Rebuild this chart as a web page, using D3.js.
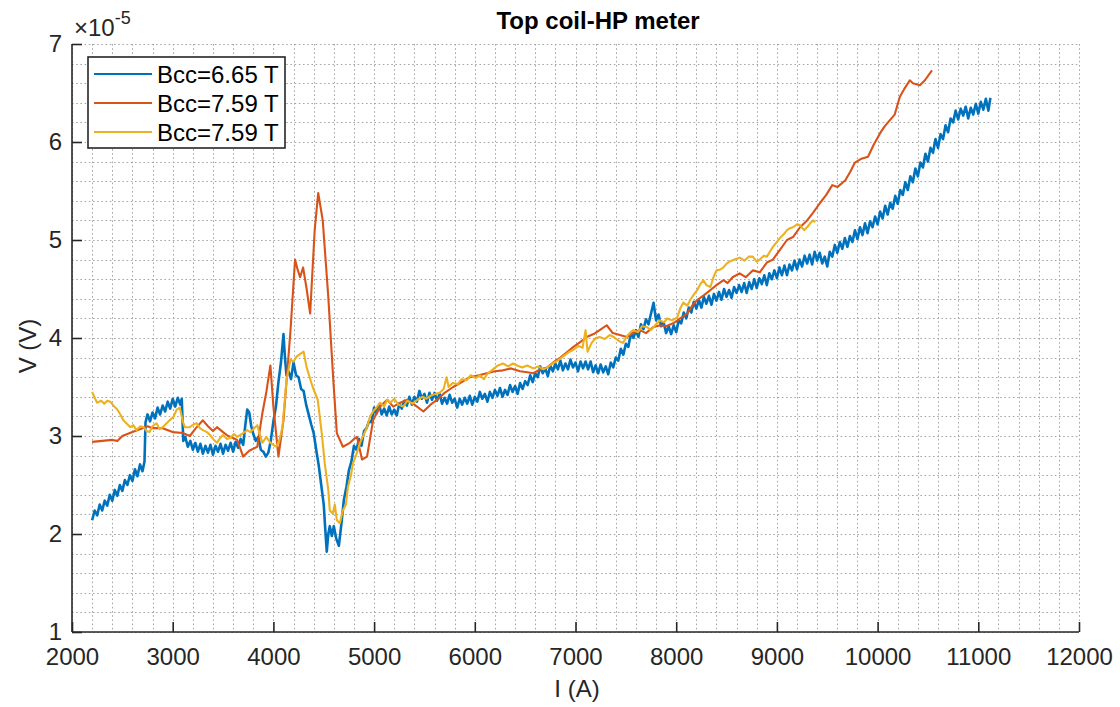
<!DOCTYPE html>
<html>
<head>
<meta charset="utf-8">
<script src="https://cdn.jsdelivr.net/npm/d3@7"></script>
<style>
  html, body { margin: 0; padding: 0; background: #fff; }
  svg { display: block; font-family: "Liberation Sans", Arial, Helvetica, sans-serif; }
</style>
</head>
<body>
<svg id="chart" width="1120" height="707"></svg>
<script>
// Voltage values are in units of 1e-5 V (axis carries a ×10^-5 multiplier).
const xTicks = [2000, 3000, 4000, 5000, 6000, 7000, 8000, 9000, 10000, 11000, 12000];
const yTicks = [1, 2, 3, 4, 5, 6, 7];
const seriesNames = ["Bcc=6.65 T", "Bcc=7.59 T", "Bcc=7.59 T"];
const seriesColors = ["#0072BD", "#D95319", "#EDB120"];

// Bcc = 6.65 T  [I (A), V]
const blueData = [
  [2200,2.14],[2225,2.24],[2250,2.19],[2275,2.30],[2300,2.24],[2325,2.34],[2350,2.29],[2375,2.40],
  [2400,2.34],[2425,2.45],[2450,2.39],[2475,2.50],[2500,2.44],[2525,2.55],[2550,2.50],[2575,2.60],
  [2600,2.54],[2625,2.66],[2650,2.59],[2675,2.71],[2700,2.64],[2720,2.74],[2730,3.14],[2750,3.22],
  [2775,3.15],[2800,3.24],[2825,3.18],[2850,3.29],[2875,3.22],[2900,3.31],[2925,3.25],[2950,3.35],
  [2975,3.28],[3000,3.38],[3025,3.30],[3050,3.39],[3075,3.32],[3090,3.38],[3105,2.95],[3125,2.99],
  [3150,2.89],[3175,2.95],[3200,2.86],[3225,2.93],[3250,2.84],[3275,2.92],[3300,2.82],[3325,2.90],
  [3350,2.83],[3375,2.91],[3400,2.81],[3425,2.90],[3450,2.84],[3475,2.92],[3500,2.82],[3525,2.91],
  [3550,2.85],[3575,2.93],[3600,2.84],[3625,2.94],[3650,2.88],[3675,2.97],[3700,2.91],[3720,3.10],
  [3740,3.27],[3760,3.24],[3780,3.10],[3800,3.02],[3825,2.95],[3850,2.99],[3875,2.86],[3900,2.84],
  [3925,2.79],[3950,2.83],[3975,2.96],[4000,3.15],[4025,3.30],[4050,3.55],[4075,3.75],[4100,4.04],
  [4115,3.80],[4130,3.62],[4150,3.66],[4175,3.58],[4200,3.75],[4225,3.62],[4250,3.60],[4275,3.48],
  [4300,3.46],[4325,3.32],[4350,3.22],[4375,3.12],[4400,3.03],[4425,2.86],[4450,2.70],[4475,2.50],
  [4500,2.30],[4515,2.05],[4530,1.82],[4545,2.00],[4560,2.08],[4580,1.98],[4600,2.08],[4625,1.95],
  [4650,1.88],[4675,2.10],[4700,2.35],[4725,2.48],[4750,2.65],[4775,2.74],[4800,2.90],[4825,2.86],
  [4850,2.97],[4875,2.90],[4900,3.05],[4925,3.08],[4950,3.15],[4975,3.14],
  [5000,3.29],[5025,3.23],[5050,3.32],[5075,3.22],[5100,3.28],[5125,3.21],[5150,3.30],[5175,3.22],
  [5200,3.27],[5225,3.21],[5250,3.33],[5275,3.28],[5300,3.36],[5325,3.31],[5350,3.40],[5375,3.32],
  [5400,3.40],[5425,3.35],[5450,3.46],[5475,3.38],[5500,3.43],[5525,3.34],[5550,3.44],[5575,3.37],
  [5600,3.44],[5625,3.36],[5650,3.43],[5675,3.33],[5700,3.39],[5725,3.33],[5750,3.42],[5775,3.34],
  [5800,3.38],[5825,3.29],[5850,3.38],[5875,3.32],[5900,3.39],[5925,3.33],[5950,3.41],[5975,3.32],
  [6000,3.40],[6025,3.35],[6050,3.45],[6075,3.38],[6100,3.43],[6125,3.35],[6150,3.45],[6175,3.39],
  [6200,3.47],[6225,3.41],[6250,3.49],[6275,3.40],[6300,3.47],[6325,3.42],[6350,3.52],[6375,3.45],
  [6400,3.51],[6425,3.43],[6450,3.54],[6475,3.48],[6500,3.56],[6525,3.52],[6550,3.62],[6575,3.55],
  [6600,3.64],[6625,3.60],[6650,3.71],[6675,3.64],[6700,3.69],[6725,3.61],[6750,3.72],[6775,3.66],
  [6800,3.74],[6825,3.68],[6850,3.77],[6875,3.67],[6900,3.74],[6925,3.68],[6950,3.78],[6975,3.70],
  [7000,3.75],[7025,3.66],[7050,3.76],[7075,3.69],[7100,3.76],[7125,3.68],[7150,3.76],[7175,3.65],
  [7200,3.72],[7225,3.64],[7250,3.73],[7275,3.65],[7300,3.71],[7325,3.63],[7350,3.75],[7375,3.70],
  [7400,3.80],[7425,3.77],[7450,3.89],[7475,3.83],[7500,3.94],[7525,3.91],[7550,4.05],[7575,4.00],
  [7600,4.08],[7625,4.01],[7650,4.14],[7675,4.09],[7700,4.19],[7725,4.14],[7750,4.25],[7775,4.36],
  [7800,4.18],[7825,4.24],[7850,4.12],[7875,4.16],[7900,4.05],[7925,4.12],[7950,4.04],[7975,4.13],
  [8000,4.06],[8025,4.18],[8050,4.15],[8075,4.26],[8100,4.20],[8125,4.31],[8150,4.26],[8175,4.37],
  [8200,4.30],[8225,4.39],[8250,4.31],[8275,4.42],[8300,4.35],[8325,4.43],[8350,4.34],[8375,4.45],
  [8400,4.38],[8425,4.47],[8450,4.39],[8475,4.50],[8500,4.42],[8525,4.49],[8550,4.41],[8575,4.52],
  [8600,4.46],[8625,4.54],[8650,4.47],[8675,4.56],[8700,4.46],[8725,4.57],[8750,4.50],[8775,4.60],
  [8800,4.51],[8825,4.61],[8850,4.55],[8875,4.64],[8900,4.54],[8925,4.66],[8950,4.60],[8975,4.69],
  [9000,4.61],[9025,4.72],[9050,4.64],[9075,4.74],[9100,4.64],[9125,4.75],[9150,4.69],[9175,4.79],
  [9200,4.70],[9225,4.80],[9250,4.73],[9275,4.84],[9300,4.76],[9325,4.85],[9350,4.75],[9375,4.88],
  [9400,4.79],[9425,4.87],[9450,4.76],[9475,4.83],[9500,4.73],[9525,4.88],[9550,4.83],[9575,4.95],
  [9600,4.87],[9625,4.98],[9650,4.91],[9675,5.02],[9700,4.93],[9725,5.04],[9750,4.98],[9775,5.10],
  [9800,5.01],[9825,5.13],[9850,5.05],[9875,5.17],[9900,5.07],[9925,5.19],[9950,5.13],[9975,5.24],
  [10000,5.16],[10025,5.29],[10050,5.22],[10075,5.35],[10100,5.26],[10125,5.38],[10150,5.32],[10175,5.45],
  [10200,5.37],[10225,5.51],[10250,5.46],[10275,5.59],[10300,5.51],[10325,5.65],[10350,5.59],[10375,5.73],
  [10400,5.65],[10425,5.79],[10450,5.74],[10475,5.88],[10500,5.80],[10525,5.94],[10550,5.89],[10575,6.03],
  [10600,5.94],[10625,6.08],[10650,6.03],[10675,6.17],[10700,6.10],[10725,6.24],[10750,6.20],[10775,6.32],
  [10800,6.23],[10825,6.34],[10850,6.27],[10875,6.36],[10900,6.24],[10925,6.35],[10950,6.28],[10975,6.39],
  [11000,6.29],[11025,6.41],[11050,6.33],[11075,6.44],[11100,6.32],[11120,6.45]
];

// Bcc = 7.59 T (first run)
const redData = [
  [2200,2.94],[2300,2.95],[2400,2.96],[2450,2.95],[2500,3.00],[2600,3.04],[2700,3.08],[2750,3.10],
  [2800,3.08],[2900,3.08],[3000,3.04],[3100,3.03],[3170,3.00],[3230,3.08],[3300,3.16],[3350,3.10],
  [3400,3.05],[3440,3.09],[3500,3.04],[3550,3.00],[3600,2.98],[3640,2.96],[3700,2.79],[3760,2.85],
  [3840,2.89],[3890,3.23],[3930,3.45],[3970,3.72],[4000,3.30],[4050,2.79],[4100,3.16],[4170,4.08],
  [4215,4.80],[4240,4.70],[4265,4.62],[4295,4.72],[4330,4.50],[4365,4.25],[4410,5.10],[4445,5.48],
  [4490,5.20],[4545,4.42],[4595,3.57],[4630,3.03],[4690,2.89],[4760,2.93],[4800,2.97],[4830,2.99],
  [4880,2.76],[4930,2.79],[4990,3.16],[5060,3.30],[5130,3.37],[5190,3.30],[5260,3.34],[5330,3.37],
  [5400,3.32],[5490,3.25],[5560,3.32],[5625,3.37],[5700,3.44],[5785,3.50],[5870,3.55],[5950,3.60],
  [6040,3.62],[6120,3.64],[6200,3.66],[6280,3.67],[6360,3.69],[6450,3.66],[6520,3.65],[6580,3.64],
  [6650,3.68],[6720,3.70],[6790,3.76],[6850,3.80],[6920,3.86],[6980,3.91],[7050,3.96],[7110,4.01],
  [7180,4.04],[7240,4.08],[7310,4.13],[7370,4.05],[7440,4.03],[7510,4.01],[7580,4.06],[7640,4.08],
  [7700,4.05],[7770,4.11],[7840,4.13],[7900,4.12],[7970,4.15],[8040,4.20],[8110,4.25],[8160,4.33],
  [8210,4.39],[8280,4.44],[8340,4.49],[8400,4.54],[8470,4.59],[8510,4.56],[8560,4.62],[8630,4.66],
  [8690,4.62],[8760,4.69],[8830,4.67],[8900,4.77],[8960,4.80],[9030,4.90],[9100,5.00],[9160,5.03],
  [9230,5.13],[9300,5.20],[9360,5.28],[9430,5.38],[9490,5.46],[9550,5.56],[9600,5.54],[9680,5.61],
  [9730,5.70],[9775,5.79],[9840,5.83],[9905,5.85],[9960,5.97],[10025,6.09],[10070,6.16],[10120,6.22],
  [10170,6.28],[10220,6.46],[10270,6.55],[10320,6.63],[10350,6.60],[10420,6.58],[10470,6.63],[10540,6.73]
];

// Bcc = 7.59 T (second run)
const yellowData = [
  [2200,3.45],[2230,3.38],[2250,3.34],[2290,3.36],[2320,3.33],[2350,3.36],[2380,3.35],[2420,3.30],
  [2450,3.27],[2480,3.22],[2510,3.16],[2550,3.12],[2580,3.09],[2610,3.11],[2640,3.06],[2680,3.10],
  [2710,3.09],[2740,3.05],[2770,3.04],[2800,3.10],[2840,3.13],[2870,3.07],[2900,3.09],[2940,3.13],
  [2970,3.16],[3010,3.20],[3040,3.27],[3070,3.29],[3100,3.15],[3120,3.09],[3170,3.09],[3210,3.12],
  [3240,3.13],[3270,3.08],[3300,3.06],[3340,3.04],[3370,3.01],[3410,2.96],[3440,2.93],[3470,2.98],
  [3500,3.01],[3540,2.97],[3570,2.98],[3610,3.02],[3640,2.99],[3670,3.01],[3700,3.03],[3740,3.06],
  [3770,3.04],[3810,3.08],[3840,3.11],[3870,3.00],[3890,2.93],[3930,2.99],[3970,2.93],[4030,2.89],
  [4060,2.96],[4090,3.09],[4130,3.57],[4170,3.78],[4200,3.76],[4230,3.81],[4270,3.84],[4300,3.86],
  [4330,3.70],[4360,3.60],[4390,3.50],[4440,3.37],[4480,3.03],[4510,2.72],[4545,2.45],[4560,2.24],
  [4590,2.21],[4610,2.30],[4630,2.14],[4660,2.11],[4690,2.24],[4720,2.30],[4740,2.48],[4770,2.60],
  [4790,2.72],[4820,2.80],[4860,2.93],[4900,3.02],[4930,3.09],[4960,3.20],[4990,3.25],[5030,3.30],
  [5060,3.34],[5100,3.30],[5130,3.37],[5160,3.34],[5200,3.38],[5240,3.32],[5290,3.30],[5330,3.36],
  [5380,3.33],[5430,3.37],[5480,3.40],[5520,3.38],[5560,3.41],[5610,3.43],[5650,3.44],[5690,3.48],
  [5720,3.60],[5740,3.50],[5780,3.54],[5830,3.53],[5870,3.58],[5920,3.57],[5960,3.62],[6010,3.59],
  [6050,3.62],[6090,3.58],[6130,3.64],[6180,3.68],[6230,3.72],[6280,3.74],[6330,3.71],[6380,3.74],
  [6420,3.72],[6470,3.70],[6520,3.72],[6580,3.69],[6630,3.71],[6680,3.68],[6720,3.70],[6770,3.74],
  [6810,3.76],[6850,3.79],[6900,3.83],[6940,3.86],[6980,3.88],[7030,3.92],[7070,3.90],[7100,4.08],
  [7120,3.86],[7160,3.95],[7200,4.00],[7240,4.01],[7290,3.99],[7340,4.03],[7380,4.01],[7430,3.97],
  [7470,3.95],[7520,4.03],[7570,4.08],[7620,4.06],[7660,4.12],[7710,4.11],[7750,4.08],[7800,4.14],
  [7840,4.18],[7880,4.16],[7910,4.20],[7960,4.18],[8010,4.21],[8040,4.30],[8070,4.36],[8110,4.33],
  [8140,4.39],[8180,4.45],[8210,4.49],[8240,4.55],[8270,4.59],[8300,4.54],[8340,4.52],[8370,4.62],
  [8400,4.69],[8440,4.70],[8470,4.72],[8500,4.76],[8530,4.78],[8580,4.80],[8630,4.82],[8680,4.79],
  [8720,4.83],[8760,4.83],[8800,4.78],[8830,4.80],[8870,4.84],[8900,4.83],[8930,4.88],[8960,4.93],
  [9000,4.98],[9030,5.02],[9070,5.06],[9100,5.10],[9130,5.12],[9160,5.13],[9200,5.16],[9230,5.15],
  [9270,5.10],[9300,5.13],[9330,5.17],[9360,5.20],[9380,5.18]
];

const allSeries = [blueData, redData, yellowData];

const svg = d3.select("#chart");
const plotLeft = 72, plotRight = 1079, plotTop = 44, plotBottom = 632;
const ink = "#262626";

const x = d3.scaleLinear().domain([2000, 12000]).range([plotLeft, plotRight]);
const y = d3.scaleLinear().domain([1, 7]).range([plotBottom, plotTop]);

// dotted major + minor grid (minor = 5 subdivisions)
const xGrid = d3.range(0, 51).map(i => 2000 + i * 200);
const yGrid = d3.range(0, 31).map(i => 1 + i * 0.2);
const grid = svg.append("g")
  .attr("stroke", "#a6a6a6")
  .attr("stroke-width", 1)
  .attr("stroke-dasharray", "1.6,2.6");
grid.selectAll("line.v").data(xGrid).join("line").attr("class", "v")
  .attr("x1", d => Math.round(x(d)) + 0.5).attr("x2", d => Math.round(x(d)) + 0.5)
  .attr("y1", plotTop).attr("y2", plotBottom);
grid.selectAll("line.h").data(yGrid).join("line").attr("class", "h")
  .attr("y1", d => Math.round(y(d)) + 0.5).attr("y2", d => Math.round(y(d)) + 0.5)
  .attr("x1", plotLeft).attr("x2", plotRight);

// data lines
const line = d3.line().x(d => x(d[0])).y(d => y(d[1]));
svg.append("g").selectAll("path").data(allSeries).join("path")
  .attr("d", line)
  .attr("fill", "none")
  .attr("stroke", (d, i) => seriesColors[i])
  .attr("stroke-width", (d, i) => i === 0 ? 2.6 : 2.1)
  .attr("stroke-linejoin", "round");

// axes with inward ticks
const xAxis = d3.axisBottom(x).tickValues(xTicks).tickFormat(d3.format("d"))
  .tickSizeInner(-10).tickSizeOuter(0).tickPadding(16);
const yAxis = d3.axisLeft(y).tickValues(yTicks).tickFormat(d3.format("d"))
  .tickSizeInner(-10).tickSizeOuter(0).tickPadding(10);

const gx = svg.append("g").attr("transform", `translate(0,${plotBottom})`).call(xAxis);
const gy = svg.append("g").attr("transform", `translate(${plotLeft},0)`).call(yAxis);
[gx, gy].forEach(g => {
  g.select(".domain").attr("stroke", ink).attr("stroke-width", 1.6);
  g.selectAll(".tick line").attr("stroke", ink).attr("stroke-width", 1.6);
  g.selectAll(".tick text").attr("fill", ink).style("font-size", "24px")
    .style("font-family", "'Liberation Sans', Arial, sans-serif");
});
gy.select(".domain").attr("d", `M0,${plotBottom}V${plotTop}`);
gx.select(".domain").attr("d", `M${plotLeft},0H${plotRight}`);

// exponent multiplier
const mult = svg.append("text").attr("x", 74).attr("y", 36).attr("fill", ink)
  .style("font-size", "24px");
mult.append("tspan").text("×10");
mult.append("tspan").attr("dy", -12).style("font-size", "18px").text("-5");

// title and axis labels
svg.append("text").attr("x", 598).attr("y", 29)
  .attr("text-anchor", "middle").attr("fill", "#000")
  .style("font-size", "24px").style("font-weight", "bold")
  .text("Top coil-HP meter");
svg.append("text").attr("x", 577).attr("y", 697)
  .attr("text-anchor", "middle").attr("fill", ink).style("font-size", "24px")
  .text("I (A)");
svg.append("text")
  .attr("transform", `translate(36,346) rotate(-90)`)
  .attr("text-anchor", "middle").attr("fill", ink).style("font-size", "24px")
  .text("V (V)");

// legend
const lg = svg.append("g");
lg.append("rect").attr("x", 88).attr("y", 57).attr("width", 197).attr("height", 91)
  .attr("fill", "#fff").attr("stroke", ink).attr("stroke-width", 1.6);
const rows = lg.selectAll("g.row").data(seriesNames).join("g")
  .attr("transform", (d, i) => `translate(0,${74 + i * 29})`);
rows.append("line").attr("x1", 94).attr("x2", 152)
  .attr("stroke", (d, i) => seriesColors[i]).attr("stroke-width", 2);
rows.append("text").attr("x", 157).attr("y", 8.5).attr("fill", "#000")
  .style("font-size", "24px").text(d => d);
</script>
</body>
</html>
